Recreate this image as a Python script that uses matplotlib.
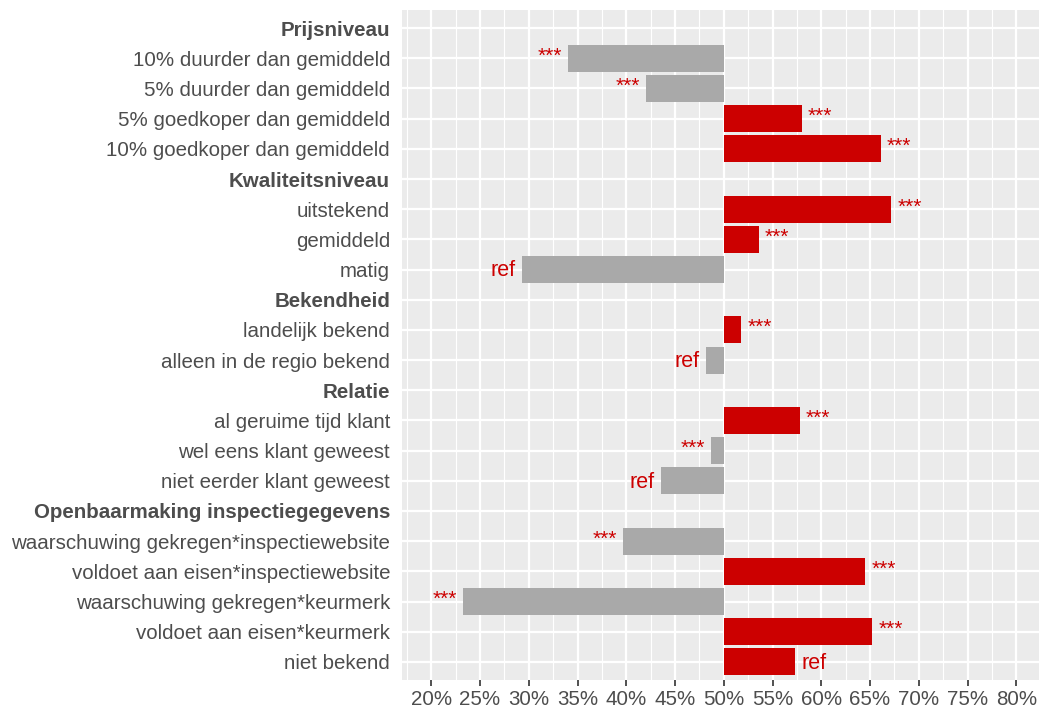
import matplotlib
matplotlib.use("Agg")
import matplotlib.pyplot as plt
from matplotlib.ticker import FixedLocator, FuncFormatter

plt.rcParams["font.family"] = ["Liberation Sans", "DejaVu Sans"]

# Rows from top to bottom; group headers have no value
categories = [
    "Prijsniveau",
    "10% duurder dan gemiddeld",
    "5% duurder dan gemiddeld",
    "5% goedkoper dan gemiddeld",
    "10% goedkoper dan gemiddeld",
    "Kwaliteitsniveau",
    "uitstekend",
    "gemiddeld",
    "matig",
    "Bekendheid",
    "landelijk bekend",
    "alleen in de regio bekend",
    "Relatie",
    "al geruime tijd klant",
    "wel eens klant geweest",
    "niet eerder klant geweest",
    "Openbaarmaking inspectiegegevens",
    "waarschuwing gekregen*inspectiewebsite",
    "voldoet aan eisen*inspectiewebsite",
    "waarschuwing gekregen*keurmerk",
    "voldoet aan eisen*keurmerk",
    "niet bekend",
]
is_header = [
    True, False, False, False, False,
    True, False, False, False,
    True, False, False,
    True, False, False, False,
    True, False, False, False, False, False,
]
# Choice share (%) per attribute level
values = [
    None, 34.0, 42.0, 58.0, 66.1,
    None, 67.2, 53.6, 29.3,
    None, 51.8, 48.2,
    None, 57.8, 48.7, 43.6,
    None, 39.7, 64.5, 23.3, 65.2, 57.3,
]
significance = [
    "", "***", "***", "***", "***",
    "", "***", "***", "ref",
    "", "***", "ref",
    "", "***", "***", "ref",
    "", "***", "***", "***", "***", "ref",
]
baseline = 50
x_ticks = list(range(20, 85, 5))

RED = "#CC0000"
GREY = "#A9A9A9"
TEXT = "#4D4D4D"
FS = 14.8

W, H = 1039, 709
fig = plt.figure(figsize=(W / 100, H / 100), dpi=100)
ax = fig.add_axes([402 / W, 1 - 680 / H, 637 / W, 670 / H])
ax.set_facecolor("#EBEBEB")
for s in ax.spines.values():
    s.set_visible(False)

ypos = list(range(len(categories)))
for y, v, sig in zip(ypos, values, significance):
    if v is None:
        continue
    up = v >= baseline
    ax.barh(y, v - baseline, left=baseline, height=0.9,
            color=RED if up else GREY, zorder=3)
    is_ref = sig == "ref"
    ax.annotate(sig, xy=(v, y),
                xytext=(4.5 if up else -4.5, -1 if is_ref else 1.5),
                textcoords="offset points", ha="left" if up else "right",
                va="center", color=RED, fontsize=15.5 if is_ref else 15,
                zorder=4)

ax.set_xlim(17, 82.33)
ax.set_ylim(len(categories) - 1 + 0.6, -0.6)

ax.xaxis.set_major_locator(FixedLocator(x_ticks))
ax.xaxis.set_minor_locator(FixedLocator([t + 2.5 for t in [15] + x_ticks]))
ax.xaxis.set_major_formatter(FuncFormatter(lambda v, p: f"{v:.0f}%"))
ax.set_yticks(ypos)
ax.set_yticklabels(categories)
for lab, hdr in zip(ax.get_yticklabels(), is_header):
    if hdr:
        lab.set_fontweight("bold")

ax.grid(which="major", axis="both", color="white", linewidth=1.6, zorder=0)
ax.grid(which="minor", axis="x", color="white", linewidth=0.8, zorder=0)
ax.set_axisbelow(True)

ax.tick_params(axis="x", which="major", length=4, width=1.2, color="#333333",
               labelsize=FS, labelcolor=TEXT, pad=3)
ax.tick_params(axis="x", which="minor", length=0)
ax.tick_params(axis="y", length=0, labelsize=FS, labelcolor=TEXT, pad=8.6)

fig.savefig("out.png", dpi=100, facecolor="white")
